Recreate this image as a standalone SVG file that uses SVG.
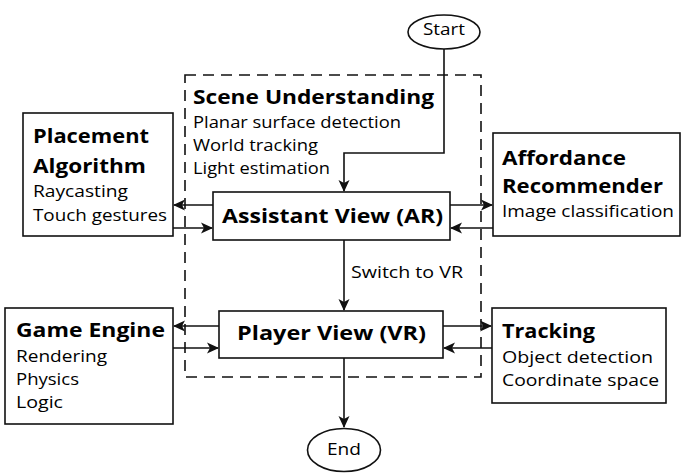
<svg xmlns="http://www.w3.org/2000/svg" width="685" height="476" viewBox="0 0 685 476">
<defs>
<style>
.box{fill:#fff;stroke:#111;stroke-width:1.6}
.line{fill:none;stroke:#111;stroke-width:1.6}
.dash{fill:none;stroke:#111;stroke-width:1.6;stroke-dasharray:11 7}
.b{font-family:"Open Sans","Noto Sans",sans-serif;font-weight:700;font-size:20px;fill:#000}
.r{font-family:"Open Sans","Noto Sans",sans-serif;font-weight:400;font-size:16px;fill:#000}
</style>
<marker id="ah" viewBox="0 0 12 12" refX="11" refY="6" markerWidth="12" markerHeight="12" markerUnits="userSpaceOnUse" orient="auto">
<path d="M0,0.5 L12,6 L0,11.5 L3,6 Z" fill="#111"/>
</marker>
</defs>
<rect width="685" height="476" fill="#fff"/>
<g id="scene-understanding">
<rect class="dash" x="185" y="75" width="296" height="302"/>
<text class="b" x="193" y="104" textLength="241" lengthAdjust="spacingAndGlyphs">Scene Understanding</text>
<text class="r" x="193" y="128" textLength="208" lengthAdjust="spacingAndGlyphs">Planar surface detection</text>
<text class="r" x="193" y="151" textLength="125" lengthAdjust="spacingAndGlyphs">World tracking</text>
<text class="r" x="193" y="174" textLength="137" lengthAdjust="spacingAndGlyphs">Light estimation</text>
</g>
<g id="connectors">
<path class="line" d="M444,49 V153 H344 V191" marker-end="url(#ah)"/>
<path class="line" d="M213,205 H174" marker-end="url(#ah)"/>
<path class="line" d="M173,228 H212" marker-end="url(#ah)"/>
<path class="line" d="M450,205 H492" marker-end="url(#ah)"/>
<path class="line" d="M493,228 H451" marker-end="url(#ah)"/>
<path class="line" d="M344,240 V310" marker-end="url(#ah)"/>
<text class="r" x="351" y="278" textLength="112" lengthAdjust="spacingAndGlyphs">Switch to VR</text>
<path class="line" d="M219,326 H174" marker-end="url(#ah)"/>
<path class="line" d="M173,348 H218" marker-end="url(#ah)"/>
<path class="line" d="M443,326 H491" marker-end="url(#ah)"/>
<path class="line" d="M492,348 H444" marker-end="url(#ah)"/>
<path class="line" d="M344,358 V427" marker-end="url(#ah)"/>
</g>
<g id="start">
<ellipse class="box" cx="444" cy="32" rx="36" ry="17"/>
<text class="r" x="444" y="35" text-anchor="middle" textLength="42" lengthAdjust="spacingAndGlyphs">Start</text>
</g>
<g id="placement-algorithm">
<rect class="box" x="23" y="113" width="150" height="123"/>
<text class="b" x="33" y="143" textLength="116" lengthAdjust="spacingAndGlyphs">Placement</text>
<text class="b" x="33" y="173" textLength="113" lengthAdjust="spacingAndGlyphs">Algorithm</text>
<text class="r" x="33" y="197" textLength="95" lengthAdjust="spacingAndGlyphs">Raycasting</text>
<text class="r" x="33" y="221" textLength="134" lengthAdjust="spacingAndGlyphs">Touch gestures</text>
</g>
<g id="assistant-view">
<rect class="box" x="213" y="192" width="237" height="48"/>
<text class="b" x="222" y="223" textLength="221" lengthAdjust="spacingAndGlyphs">Assistant View (AR)</text>
</g>
<g id="affordance-recommender">
<rect class="box" x="493" y="133" width="187" height="103"/>
<text class="b" x="502" y="165" textLength="124" lengthAdjust="spacingAndGlyphs">Affordance</text>
<text class="b" x="502" y="193" textLength="161" lengthAdjust="spacingAndGlyphs">Recommender</text>
<text class="r" x="502" y="217" textLength="172" lengthAdjust="spacingAndGlyphs">Image classification</text>
</g>
<g id="player-view">
<rect class="box" x="219" y="311" width="224" height="47"/>
<text class="b" x="237" y="340" textLength="189" lengthAdjust="spacingAndGlyphs">Player View (VR)</text>
</g>
<g id="game-engine">
<rect class="box" x="5" y="308" width="168" height="116"/>
<text class="b" x="16" y="337" textLength="149" lengthAdjust="spacingAndGlyphs">Game Engine</text>
<text class="r" x="16" y="362" textLength="91" lengthAdjust="spacingAndGlyphs">Rendering</text>
<text class="r" x="16" y="385" textLength="63" lengthAdjust="spacingAndGlyphs">Physics</text>
<text class="r" x="16" y="408" textLength="47" lengthAdjust="spacingAndGlyphs">Logic</text>
</g>
<g id="tracking">
<rect class="box" x="492" y="308" width="174" height="95"/>
<text class="b" x="502" y="338" textLength="93" lengthAdjust="spacingAndGlyphs">Tracking</text>
<text class="r" x="502" y="363" textLength="151" lengthAdjust="spacingAndGlyphs">Object detection</text>
<text class="r" x="502" y="386" textLength="157" lengthAdjust="spacingAndGlyphs">Coordinate space</text>
</g>
<g id="end">
<ellipse class="box" cx="344" cy="450" rx="36.5" ry="21.5"/>
<text class="r" x="344" y="455" text-anchor="middle" textLength="34" lengthAdjust="spacingAndGlyphs">End</text>
</g>
</svg>
